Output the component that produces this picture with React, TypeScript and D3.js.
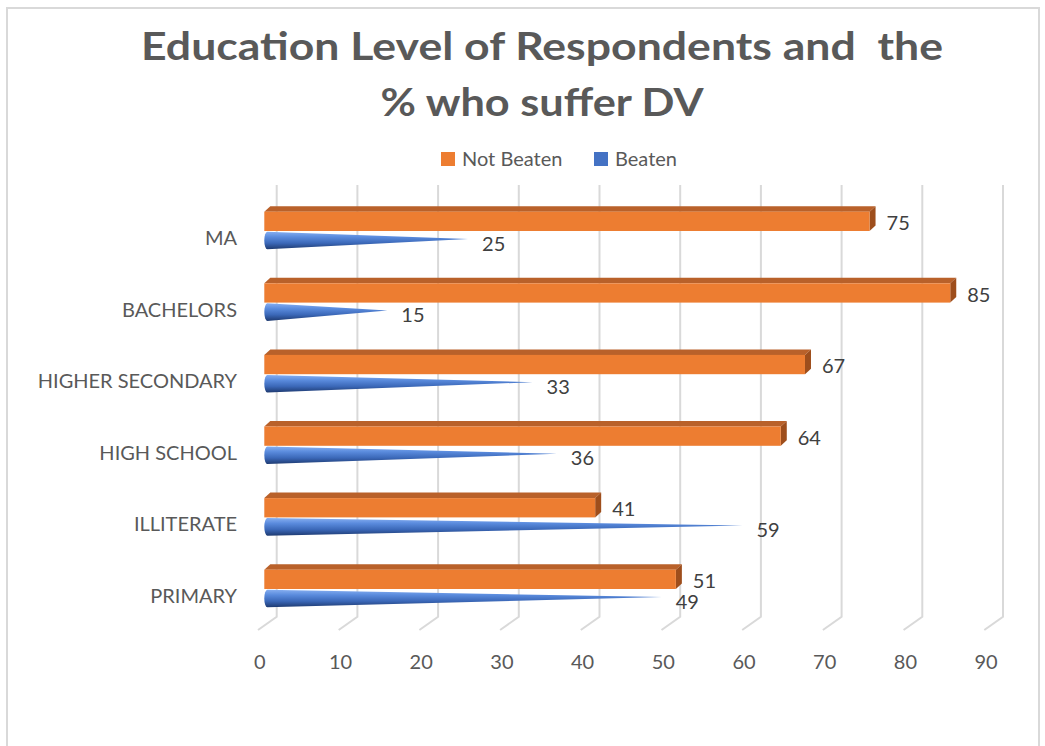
import React from "react";
import * as d3 from "d3";

const categories = ["MA", "BACHELORS", "HIGHER SECONDARY", "HIGH SCHOOL", "ILLITERATE", "PRIMARY"];
const notBeaten = [75, 85, 67, 64, 41, 51];
const beaten = [25, 15, 33, 36, 59, 49];
const xTicks = [0, 10, 20, 30, 40, 50, 60, 70, 80, 90];
const titleLines = ["Education Level of Respondents and  the", "% who suffer DV"];
const titleWidths = [802, 323];
const seriesNames = ["Not Beaten", "Beaten"];

const W = 1045;
const H = 746;
const FONT = "Lato, 'Noto Sans', sans-serif";
const TXT = "#595959";

export default function App() {
  const x = d3.scaleLinear().domain([0, 90]).range([264.3, 264.3 + 8.07 * 90]);
  const y = d3
    .scalePoint<string>()
    .domain(categories)
    .range([238, 238 + 71.6 * (categories.length - 1)]);

  const DX = 6; // depth offset
  const DY = 5.5;
  const gridTop = 185;
  const gridBottom = 616.7;
  const floorDX = 18.7;
  const floorDY = 13.3;
  const backOff = 12.4;

  return (
    <svg width={W} height={H} style={{ display: "block", position: "absolute", left: 0, top: 0 }}>
      <defs>
        <linearGradient id="coneGrad" x1="0" y1="0" x2="0" y2="1">
          <stop offset="0" stopColor="#86AEF0" />
          <stop offset="0.3" stopColor="#5A8BDD" />
          <stop offset="0.65" stopColor="#3B68B8" />
          <stop offset="1" stopColor="#1E3A70" />
        </linearGradient>
      </defs>
      <rect x={0} y={0} width={W} height={H} fill="#fff" />
      <rect x={7} y={8} width={1032} height={760} fill="none" stroke="#d9d9d9" strokeWidth={2} />

      {/* Title */}
      {titleLines.map((t, i) => (
        <text
          key={i}
          x={542 - titleWidths[i] / 2}
          y={60 + i * 56}
          textLength={titleWidths[i]}
          lengthAdjust="spacingAndGlyphs"
          fontFamily={FONT}
          fontWeight={700}
          fontSize={39}
          fill={TXT}
          style={{ whiteSpace: "pre" }}
        >
          {t}
        </text>
      ))}

      {/* Legend */}
      {seriesNames.map((s, i) => {
        const lx = i === 0 ? 441 : 594;
        return (
          <g key={s}>
            <rect x={lx} y={152} width={14} height={14} fill={i === 0 ? "#ED7D31" : "#4472C4"} />
            <text x={lx + 21} y={165.5} fontFamily={FONT} fontSize={20} fill={TXT}>
              {s}
            </text>
          </g>
        );
      })}

      {/* Gridlines */}
      {xTicks.map((t) => {
        const bx = x(t) + backOff;
        return (
          <g key={t}>
            <path
              d={`M${bx},${gridTop}L${bx},${gridBottom}L${bx - floorDX},${gridBottom + floorDY}`}
              fill="none"
              stroke="#d9d9d9"
              strokeWidth={2}
            />
            <text
              x={x(t) - 4.5}
              y={669}
              textAnchor="middle"
              fontFamily={FONT}
              fontSize={20}
              fill={TXT}
            >
              {t}
            </text>
          </g>
        );
      })}

      {/* Category labels */}
      {categories.map((c) => (
        <text key={c} x={237} y={(y(c) as number) + 7} textAnchor="end" fontFamily={FONT} fontSize={20} fill={TXT}>
          {c}
        </text>
      ))}

      {/* Bars */}
      {categories.map((c, i) => {
        const cy = y(c) as number;
        const top = cy - 26.3;
        const bot = cy - 7;
        const x0 = x(0);
        const x1 = x(notBeaten[i]);
        const cTop = cy - 6.3;
        const cBot = cy + 11.3;
        const halfH = (cBot - cTop) / 2;
        const tipX = x(beaten[i]) + 2;
        const tipY = cy + 1;
        const bx = x0 + 3;
        const conePath = `M${bx},${cTop}L${tipX},${tipY}L${bx},${cBot}A3,${halfH} 0 0 1 ${bx},${cTop}Z`;
        return (
          <g key={c}>
            <path
              d={`M${x0},${top}L${x0 + DX},${top - DY}L${x1 + DX},${top - DY}L${x1},${top}Z`}
              fill="#B9612A"
            />
            <path
              d={`M${x1},${top}L${x1 + DX},${top - DY}L${x1 + DX},${bot - DY}L${x1},${bot}Z`}
              fill="#9E4E1C"
            />
            <rect x={x0} y={top} width={x1 - x0} height={bot - top} fill="#ED7D31" />
            <path d={conePath} fill="url(#coneGrad)" />
            <text x={x1 + 17} y={cy - 15 + 7} fontFamily={FONT} fontSize={20} fill="#404040">
              {notBeaten[i]}
            </text>
            <text x={tipX + 14} y={cy + 5.5 + 7} fontFamily={FONT} fontSize={20} fill="#404040">
              {beaten[i]}
            </text>
          </g>
        );
      })}
    </svg>
  );
}
